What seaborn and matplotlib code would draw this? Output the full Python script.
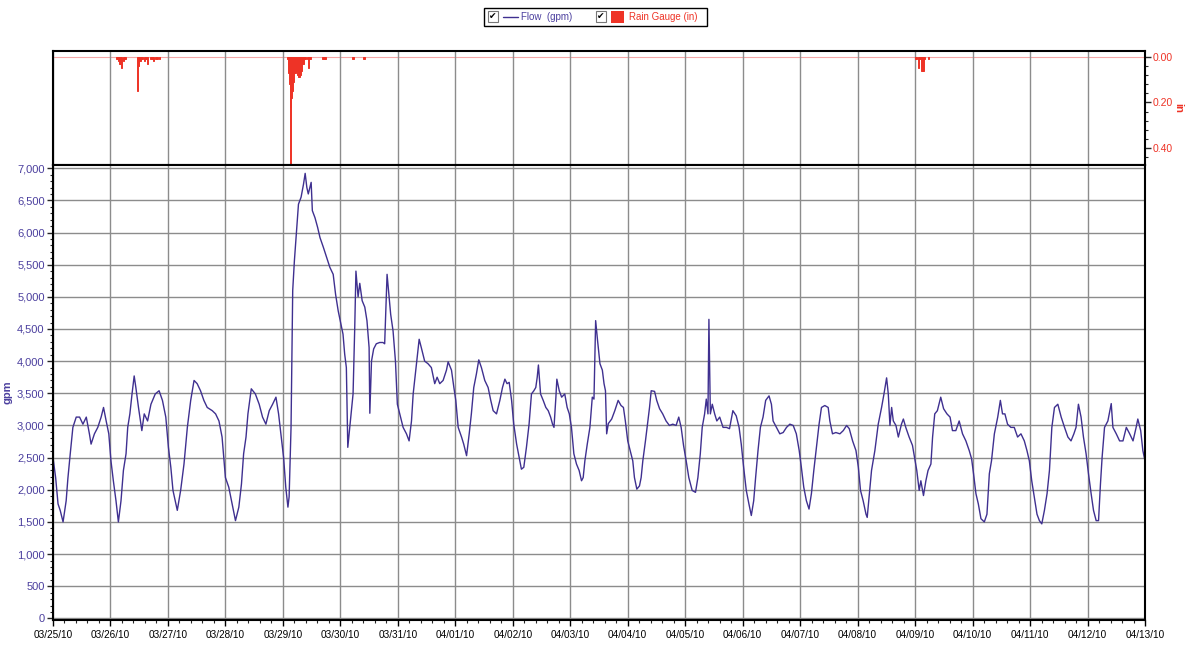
import pandas as pd
import matplotlib.pyplot as plt
import matplotlib.dates as mdates
from matplotlib.ticker import MultipleLocator, FuncFormatter
from matplotlib.patches import Rectangle
from matplotlib.lines import Line2D
import seaborn as sns

sns.set_theme(style="white")
plt.rcParams['font.family'] = ['Liberation Sans', 'DejaVu Sans']

# Flow readings (hours after 03/25/10 00:00, gpm)
flow_hours = [
    0.0, 1.1, 2.1, 3.0, 4.2, 5.5, 6.2, 7.2, 8.3, 9.7, 11.1, 12.5, 13.9, 15.2, 15.9, 17.3,
    18.7, 20.1, 21.1, 22.2, 23.3, 24.2, 25.2, 26.3, 27.3, 28.4, 29.4, 30.5, 31.2, 32.1,
    33.0, 33.9, 34.6, 35.7, 37.1, 38.1, 39.5, 40.9, 42.7, 44.3, 45.7, 47.1, 48.2, 49.2,
    50.1, 51.9, 53.3, 54.7, 56.1, 57.5, 58.9, 60.2, 61.6, 63.0, 64.4, 66.5, 67.9, 69.3,
    70.6, 72.0, 73.4, 74.8, 76.2, 77.6, 78.7, 79.6, 80.6, 81.4, 82.8, 84.5, 86.1, 87.5,
    88.9, 90.3, 91.7, 93.1, 94.2, 95.3, 96.3, 97.2, 98.1, 98.6, 99.0, 99.4, 99.7, 100.1,
    100.8, 101.8, 102.5, 103.6, 104.6, 105.3, 106.0, 106.6, 107.8, 108.3, 109.4, 110.5,
    111.5, 112.9, 114.3, 115.6, 117.0, 118.0, 119.1,
    121.1, 121.8, 122.5, 123.1, 124.2, 125.3, 126.0, 126.5, 127.4, 128.1, 129.1, 130.2,
    131.1, 132.0, 132.3, 133.0, 133.9, 135.0, 136.4, 137.8, 138.5, 139.5, 140.3, 141.0,
    142.0, 143.0, 143.8, 144.8, 146.2, 147.6, 148.7, 149.7, 150.4, 151.3, 152.0, 152.9,
    153.8, 155.2, 156.6, 158.0, 159.4, 160.4, 161.5, 162.9, 164.3, 165.0, 166.4, 167.4,
    168.2, 169.2, 170.6, 171.5, 172.7, 173.8, 174.7, 175.7, 176.8, 177.8, 178.9, 180.3,
    181.7, 182.8, 183.8, 185.2, 186.6, 187.7, 188.7, 189.6, 190.5, 191.5, 192.4, 193.6,
    194.7, 195.6, 196.6, 197.7, 198.8, 199.8, 200.8, 201.6, 202.2, 202.7, 203.6, 204.7,
    205.8, 206.8, 207.8, 208.6, 209.2, 210.0, 210.4, 211.4, 212.4, 213.7, 214.7, 215.6,
    216.5, 217.5, 218.6, 219.7, 220.7, 221.4, 222.1, 223.1, 224.2, 225.2, 225.9, 226.6,
    227.4, 228.4, 229.4, 230.1, 230.7, 231.2, 231.9, 233.3, 234.6, 236.0,
    237.2, 238.2, 239.0, 240.0, 241.0, 242.1, 242.8, 243.8, 244.9, 245.6, 246.3, 247.4,
    248.4, 249.1, 249.8, 251.2, 252.1, 253.3, 254.6, 256.0, 257.4, 258.8, 260.2, 261.3,
    262.3, 263.3, 264.4, 265.5, 266.9, 268.3, 269.3, 270.3, 271.1, 272.1, 272.8, 273.5,
    273.9, 274.5, 275.3, 276.3, 277.2, 278.4, 279.8, 281.2, 282.5, 283.9, 285.3, 286.5,
    287.4, 288.4, 289.5, 290.6, 291.6, 292.6, 293.4, 294.4, 295.4, 296.5, 297.6, 299.0,
    300.0, 300.7, 302.1, 303.5, 304.9, 306.3, 307.7, 309.1, 310.4, 311.6, 312.5, 313.5,
    314.6, 315.7, 316.7, 317.7, 318.8, 319.9, 320.9, 322.3, 323.7, 324.4, 325.5, 326.9,
    328.6, 330.0, 331.4, 332.5, 333.9, 335.3, 336.3, 337.2, 338.3, 339.5, 340.0, 340.9,
    341.8, 343.2, 344.6, 346.0, 347.0, 348.1, 348.8, 349.5, 350.2, 350.9, 352.0, 353.0,
    354.3, 355.1, 356.1, 357.5, 358.9, 360.0, 360.7, 361.7, 362.4, 363.5, 364.5, 365.4,
    366.6, 367.3, 368.2, 369.3, 370.7, 371.9, 373.3, 374.6, 375.6, 377.0, 378.4, 379.8,
    381.2, 382.6, 383.6, 384.4, 385.4, 386.4, 387.5, 388.9, 390.0, 391.0, 391.9, 393.1,
    394.5, 395.6, 396.5, 397.5, 398.6, 400.0, 401.4, 402.8, 404.2, 405.6, 406.7, 407.7,
    408.7, 409.8, 410.9, 411.9, 412.9, 414.0, 415.1, 416.1, 417.1, 418.2, 419.6, 421.0,
    422.4, 423.8, 425.1, 426.3, 427.2, 428.2, 429.3, 430.3, 431.4, 432.4, 433.5, 434.5,
    435.6, 436.6, 437.4, 438.1, 439.1, 440.5, 441.9, 442.6, 444.0, 445.4, 446.8, 448.2,
    449.6, 451.0, 452.3, 453.0, 454.2, 455.1, 456.0,
]
flow_gpm = [
    2500, 2190, 1780, 1680, 1500, 1830, 2170, 2560, 2970, 3130, 3130, 3020, 3130, 2870, 2710, 2870,
    2970, 3130, 3280, 3070, 2870, 2450, 2140, 1830, 1500, 1830, 2300, 2560, 2970, 3180,
    3490, 3770, 3590, 3280, 2920, 3180, 3070, 3330, 3490, 3540, 3390, 3130, 2660, 2350,
    1990, 1680, 1990, 2400, 2970, 3390, 3700, 3650, 3540, 3390, 3280, 3230, 3180, 3070,
    2820, 2190, 2040, 1780, 1520, 1730, 2090, 2560, 2820, 3180, 3570, 3490, 3330, 3130,
    3020, 3230, 3330, 3440, 3180, 2820, 2500, 2040, 1730, 1890, 2450, 2970, 3850, 5100,
    5560, 6080, 6440, 6550, 6750, 6920, 6700, 6600, 6780, 6340, 6230, 6080,
    5920, 5770, 5610, 5460, 5350, 5040, 4780,
    4420, 4110, 3900, 2660, 3070, 3490, 4520, 5400, 5000, 5210, 4940, 4840,
    4630, 4210, 3190, 4000, 4190, 4270, 4290, 4290, 4270, 5350, 5020, 4730,
    4470, 4000, 3330, 3180, 2970, 2870, 2760, 3070, 3490, 3800, 4050, 4340,
    4210, 4000, 3960, 3900, 3650, 3750, 3650, 3700, 3860, 3990, 3860, 3590,
    3390, 2970, 2820, 2710, 2530, 2870, 3180, 3590, 3800, 4020, 3900, 3700,
    3590, 3390, 3230, 3180, 3390, 3590, 3720, 3650, 3670, 3390, 3020, 2710,
    2500, 2320, 2350, 2660, 3020, 3490, 3540, 3590, 3750, 3940, 3490, 3390,
    3280, 3230, 3130, 3020, 2970, 3440, 3720, 3540, 3440, 3490, 3280, 3180,
    2970, 2560, 2400, 2300, 2140, 2190, 2450, 2710, 2970, 3440, 3410, 4630,
    4320, 3960, 3860, 3650, 3540, 2870, 3030, 3100, 3230, 3390,
    3310, 3280, 3070, 2760, 2610, 2450, 2190, 2010, 2060, 2190, 2450, 2760,
    3070, 3280, 3540, 3530, 3390, 3260, 3180, 3070, 3000, 3020, 3000, 3130,
    2970, 2690, 2450, 2190, 1990, 1960, 2190, 2560, 2970, 3180, 3410, 3180,
    4650, 3180, 3330, 3180, 3070, 3130, 2970, 2970, 2950, 3230, 3150, 2970,
    2710, 2350, 1990, 1780, 1600, 1830, 2190, 2610, 2970, 3130, 3390, 3460,
    3330, 3070, 2970, 2870, 2890, 2970, 3020, 3000, 2870, 2610, 2350, 2040,
    1830, 1700, 1940, 2300, 2660, 3020, 3280, 3310, 3280, 3070, 2870, 2890,
    2870, 2920, 3000, 2950, 2760, 2610, 2350, 1990, 1830, 1620, 1570, 1940,
    2300, 2610, 3020, 3280, 3490, 3740, 3490, 3000, 3280, 3070, 3000, 2820,
    3020, 3100, 2970, 2820, 2690, 2450, 2300, 1990, 2140, 1910, 2140, 2300,
    2400, 2820, 3180, 3230, 3440, 3260, 3180, 3130, 2920, 2920, 3070, 2870,
    2760, 2610, 2480, 2250, 1940, 1780, 1550, 1500, 1620, 2250, 2450, 2870,
    3130, 3390, 3180, 3180, 3020, 2970, 2970, 2820, 2870, 2760, 2610, 2450,
    2140, 1880, 1620, 1520, 1470, 1680, 1940, 2300, 2970, 3280, 3330, 3130,
    2970, 2820, 2760, 2870, 2970, 3330, 3130, 2820, 2560, 2250, 1940, 1680,
    1520, 1520, 2090, 2510, 2970, 3070, 3340, 2970, 2870, 2760, 2760, 2970,
    2870, 2760, 2970, 3100, 2920, 2610, 2450,
]

# Rain gauge readings (hours after 03/25/10 00:00, inches)
rain_hours = [
    26.7, 27.3, 28.0, 28.7, 29.4, 30.1, 35.4, 35.7, 36.3, 37.1, 38.2, 38.8, 39.6, 40.6,
    41.3, 42.1, 43.0, 43.5, 44.4,
    97.8, 98.2, 98.5, 98.8, 99.1, 99.3, 99.6, 100.0, 100.5, 101.0, 101.6, 102.1, 102.7,
    103.2, 103.8, 104.4, 104.9, 105.5, 106.2, 106.7, 107.3, 112.7, 113.6, 125.3, 129.9,
    360.4, 361.4, 362.1, 362.9, 363.3, 363.9, 365.6,
]
rain_in = [
    0.01, 0.02, 0.03, 0.05, 0.02, 0.01, 0.15, 0.04, 0.02, 0.01, 0.02, 0.01, 0.03, 0.01,
    0.01, 0.02, 0.01, 0.01, 0.01,
    0.01, 0.03, 0.07, 0.12, 0.22, 0.47, 0.18, 0.15, 0.11, 0.07, 0.06, 0.08, 0.09,
    0.08, 0.06, 0.03, 0.01, 0.01, 0.01, 0.05, 0.01, 0.01, 0.01, 0.01, 0.01,
    0.01, 0.05, 0.01, 0.06, 0.06, 0.01, 0.01,
]

start = pd.Timestamp("2010-03-25")
end = start + pd.Timedelta(days=19)
flow_df = pd.DataFrame({"time": start + pd.to_timedelta(flow_hours, unit="h"), "gpm": flow_gpm})
rain_df = pd.DataFrame({"time": start + pd.to_timedelta(rain_hours, unit="h"), "inch": rain_in})

purple = "#3f3090"
purple_txt = "#4b3f9e"
red = "#ee3326"
grid_c = "#8c8c8c"

W, H = 1185, 646
fig = plt.figure(figsize=(W / 100, H / 100), dpi=100)


def px_box(x0, y0, x1, y1):
    return [x0 / W, 1 - y1 / H, (x1 - x0) / W, (y1 - y0) / H]


ax_top = fig.add_axes(px_box(53, 51, 1145, 165))
ax = fig.add_axes(px_box(53, 165, 1145, 620))

# Flow panel
sns.lineplot(data=flow_df, x="time", y="gpm", ax=ax, color=purple, lw=1.0)
ax.set_xlim(start, end)
ax.set_ylim(-25, 7050)
ax.xaxis.set_major_locator(mdates.DayLocator())
ax.xaxis.set_major_formatter(mdates.DateFormatter("%m/%d/%y"))
ax.xaxis.set_minor_locator(MultipleLocator(0.2))
ax.yaxis.set_major_locator(MultipleLocator(500))
ax.yaxis.set_minor_locator(MultipleLocator(100))
ax.yaxis.set_major_formatter(FuncFormatter(lambda v, p: f"{int(v):,}"))
ax.grid(True, which="major", color=grid_c, lw=1.0)
ax.set_xlabel("")
ax.set_ylabel("gpm", color=purple_txt, fontsize=8, fontweight="bold")
ax.yaxis.set_label_coords(-0.037, 0.5)
ax.tick_params(axis="x", which="major", direction="out", length=4, width=1, labelsize=7.2,
               colors="black", bottom=True, pad=3)
ax.tick_params(axis="x", which="minor", direction="out", length=2.5, width=0.8, bottom=True)
ax.tick_params(axis="y", which="major", direction="out", length=4, width=1, labelsize=8,
               labelcolor=purple_txt, left=True, pad=2)
ax.tick_params(axis="y", which="minor", direction="out", length=2.5, width=0.8, left=True)
for s in ax.spines.values():
    s.set_color("black")
    s.set_linewidth(1.5)

# Rain panel (inverted, bars hang from the top)
ax_top.bar(rain_df["time"], rain_df["inch"], width=0.55 / 24, color=red,
           edgecolor=red, linewidth=0.7, align="center")
ax_top.axhline(0, color="#f4a7a7", lw=0.8, zorder=0.5)
ax_top.set_xlim(start, end)
ax_top.set_ylim(0.475, -0.026)
ax_top.xaxis.set_major_locator(mdates.DayLocator())
ax_top.grid(True, axis="x", which="major", color=grid_c, lw=1.0)
ax_top.set_axisbelow(True)
ax_top.tick_params(axis="x", bottom=False, labelbottom=False)
ax_top.yaxis.tick_right()
ax_top.yaxis.set_label_position("right")
ax_top.yaxis.set_major_locator(MultipleLocator(0.2))
ax_top.yaxis.set_minor_locator(MultipleLocator(0.04))
ax_top.yaxis.set_major_formatter(FuncFormatter(lambda v, p: f"{v:.2f}"))
ax_top.tick_params(axis="y", which="major", direction="out", length=4, width=1, labelsize=7.5,
                   labelcolor=red, right=True, pad=1.5)
ax_top.tick_params(axis="y", which="minor", direction="out", length=2.5, width=0.8, right=True)
ax_top.set_ylabel("in", color=red, fontsize=8, fontweight="bold", rotation=270, va="center")
ax_top.yaxis.set_label_coords(1.0305, 0.5)
for s in ax_top.spines.values():
    s.set_color("black")
    s.set_linewidth(1.5)

# Legend box at the top
def fx(px):
    return px / W


def fy(py):
    return 1 - py / H


fig.patches.append(Rectangle((fx(484), fy(26)), fx(707) - fx(484), fy(7.5) - fy(26),
                             transform=fig.transFigure, fill=False, edgecolor="black", lw=1.0))
for cx in (488, 596):
    fig.patches.append(Rectangle((fx(cx), fy(22)), fx(cx + 10) - fx(cx), fy(11) - fy(22),
                                 transform=fig.transFigure, facecolor="white",
                                 edgecolor="#777777", lw=0.8))
    fig.text(fx(cx + 5), fy(16.5), "\u2714", fontsize=6.5, ha="center", va="center",
             color="black", family=["DejaVu Sans"])
fig.lines.append(Line2D([fx(503), fx(518)], [fy(16.5), fy(16.5)], transform=fig.transFigure,
                        color=purple, lw=1.0))
fig.text(fx(521), fy(16.5), "Flow  (gpm)", fontsize=7, color=purple_txt, va="center")
fig.patches.append(Rectangle((fx(611), fy(22.5)), fx(624) - fx(611), fy(11) - fy(22.5),
                             transform=fig.transFigure, facecolor=red, edgecolor="none"))
fig.text(fx(629), fy(16.5), "Rain Gauge (in)", fontsize=7, color=red, va="center")

plt.savefig("out.png", dpi=100)
